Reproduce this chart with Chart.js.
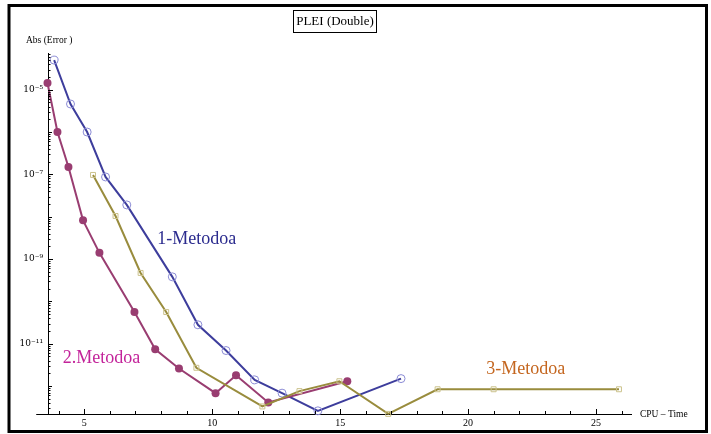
<!DOCTYPE html>
<html><head><meta charset="utf-8">
<script src="https://cdn.jsdelivr.net/npm/chart.js@4.4.1/dist/chart.umd.min.js"></script>
<style>html,body{margin:0;padding:0;background:#fff;} canvas{display:block;}</style>
</head><body>
<canvas id="c" width="711" height="434"></canvas>
<script>
// ---- data ----
const method1X = [3.82, 4.46, 5.11, 5.83, 6.66, 8.44, 9.44, 10.54, 11.66, 12.73, 14.13, 17.38];
const method1Y = [5.0e-5, 4.6e-6, 1.0e-6, 8.7e-8, 1.9e-8, 3.8e-10, 2.8e-11, 6.9e-12, 1.4e-12, 6.8e-13, 2.6e-13, 1.5e-12];
const method2X = [3.56, 3.95, 4.38, 4.95, 5.59, 6.96, 7.77, 8.70, 10.13, 10.93, 12.19, 15.28];
const method2Y = [1.44e-5, 1.0e-6, 1.5e-7, 8.2e-9, 1.4e-9, 5.6e-11, 7.4e-12, 2.6e-12, 6.8e-13, 1.8e-12, 4.1e-13, 1.3e-12];
const method3X = [5.34, 6.22, 7.20, 8.20, 9.38, 11.96, 13.41, 14.97, 16.88, 18.81, 21.00, 25.90];
const method3Y = [9.7e-8, 1.04e-8, 4.7e-10, 5.6e-11, 2.7e-12, 3.3e-13, 7.6e-13, 1.3e-12, 2.2e-13, 8.4e-13, 8.4e-13, 8.4e-13];
const seriesNames = ['1-Metodoa', '2.Metodoa', '3-Metodoa'];
const xTickLabels = [5, 10, 15, 20, 25];
const yTickExponents = [-5, -7, -9, -11];
const chartTitle = 'PLEI (Double)';
const yAxisTitle = 'Abs (Error )';
const xAxisTitle = 'CPU \u2013 Time';

// ---- layout / styling ----
const X_MIN = 3.58, X_MAX = 26.37, X_LINE_START = 3.12;
const Y_MIN = Math.pow(10, -12.66), Y_MAX = Math.pow(10, -4.133);
const SERIF = "'Liberation Serif', 'DejaVu Serif', serif";
const seriesLabelPos = [
  {x: 7.85, y: Math.pow(10, -8.53), color: '#2b2b8e'},
  {x: 4.16, y: Math.pow(10, -11.345), color: '#c3239a'},
  {x: 20.71, y: Math.pow(10, -11.605), color: '#c4661f'}
];

const SUP = {'-': '\u207B', '0': '\u2070', '1': '\u00B9', '2': '\u00B2', '3': '\u00B3', '4': '\u2074', '5': '\u2075', '6': '\u2076', '7': '\u2077', '8': '\u2078', '9': '\u2079'};
function sup(n) { return String(n).split('').map(c => SUP[c]).join(''); }
function pts(xs, ys) { return xs.map((x, i) => ({x: x, y: ys[i]})); }

const decor = {
  id: 'decor',
  beforeDraw(chart) {
    const ctx = chart.ctx;
    ctx.save();
    ctx.fillStyle = '#fff';
    ctx.fillRect(0, 0, chart.width, chart.height);
    ctx.restore();
  },
  afterDraw(chart) {
    const ctx = chart.ctx, xs = chart.scales.x, ys = chart.scales.y, ca = chart.chartArea;
    ctx.save();
    ctx.strokeStyle = '#000';
    ctx.lineWidth = 1;
    // x axis extension to the left of the y axis
    ctx.beginPath();
    ctx.moveTo(xs.getPixelForValue(X_LINE_START), Math.round(ca.bottom) + 0.5);
    ctx.lineTo(ca.left, Math.round(ca.bottom) + 0.5);
    ctx.stroke();
    // inward tick marks x
    xs.ticks.forEach(t => {
      const v = t.value;
      if (Math.abs(v - Math.round(v)) > 1e-9) return;
      const len = (v % 5 === 0) ? 5 : 3;
      const px = Math.round(xs.getPixelForValue(v)) + 0.5;
      ctx.beginPath(); ctx.moveTo(px, ca.bottom); ctx.lineTo(px, ca.bottom - len); ctx.stroke();
    });
    // inward tick marks y
    ys.ticks.forEach(t => {
      const v = t.value;
      const e = Math.floor(Math.log10(v) + 1e-9);
      const m = v / Math.pow(10, e);
      if (Math.abs(m - Math.round(m)) > 1e-6) return;
      let len = 2.5;
      if (Math.round(m) === 1) len = yTickExponents.includes(e) ? 5 : 4;
      const py = Math.round(ys.getPixelForValue(v)) + 0.5;
      ctx.beginPath(); ctx.moveTo(ca.left, py); ctx.lineTo(ca.left + len, py); ctx.stroke();
    });
    // axis titles
    ctx.fillStyle = '#000';
    ctx.font = '9.5px ' + SERIF;
    ctx.textBaseline = 'middle';
    ctx.textAlign = 'left';
    ctx.fillText(yAxisTitle, 26, 40);
    ctx.fillText(xAxisTitle, ca.right + 9, ca.bottom);
    // title box
    ctx.font = '13px ' + SERIF;
    ctx.textAlign = 'center';
    ctx.fillText(chartTitle, 335, 22);
    ctx.strokeRect(293.5, 10.5, 83, 22);
    // series labels
    ctx.font = '18px ' + SERIF;
    ctx.textAlign = 'left';
    seriesLabelPos.forEach((p, i) => {
      ctx.fillStyle = p.color;
      ctx.fillText(seriesNames[i], xs.getPixelForValue(p.x), ys.getPixelForValue(p.y));
    });
    // outer frame
    ctx.lineWidth = 3;
    ctx.strokeStyle = '#000';
    ctx.strokeRect(9, 5.5, 697.5, 426);
    ctx.restore();
  }
};

new Chart(document.getElementById('c'), {
  type: 'line',
  data: {
    datasets: [
      {label: seriesNames[0], data: pts(method1X, method1Y), borderColor: '#3d3d9c', borderWidth: 2,
       pointStyle: 'circle', pointRadius: 4, pointBorderColor: '#8c8cd6', pointBackgroundColor: 'rgba(0,0,0,0)',
       pointBorderWidth: 1, order: 2, clip: false},
      {label: seriesNames[1], data: pts(method2X, method2Y), borderColor: '#993d71', borderWidth: 2,
       pointStyle: 'circle', pointRadius: 4, pointBorderColor: '#993d71', pointBackgroundColor: '#993d71',
       pointBorderWidth: 0, order: 1, clip: false},
      {label: seriesNames[2], data: pts(method3X, method3Y), borderColor: '#998c3d', borderWidth: 2,
       pointStyle: 'rect', pointRadius: 3.5, pointBorderColor: '#cbc28c', pointBackgroundColor: 'rgba(0,0,0,0)',
       pointBorderWidth: 1, order: 0, clip: false}
    ]
  },
  options: {
    responsive: false,
    animation: false,
    devicePixelRatio: 1,
    layout: {padding: {left: 10, right: 80, top: 53, bottom: 0}},
    plugins: {legend: {display: false}, tooltip: {enabled: false}, title: {display: false}},
    elements: {line: {tension: 0}},
    scales: {
      x: {
        type: 'linear', min: X_MIN, max: X_MAX,
        afterFit(s) { s.height = 20; },
        afterBuildTicks(s) { const t = []; for (let v = Math.ceil(X_MIN); v <= X_MAX; v++) t.push({value: v}); s.ticks = t; },
        grid: {display: false, drawTicks: false},
        border: {display: true, color: '#000', width: 1},
        ticks: {autoSkip: false, maxRotation: 0, padding: 3, color: '#000', font: {family: SERIF, size: 10},
                callback: (v) => xTickLabels.includes(v) ? String(v) : ''}
      },
      y: {
        type: 'logarithmic', min: Y_MIN, max: Y_MAX,
        afterFit(s) { s.width = 38; },
        afterBuildTicks(s) {
          const t = [];
          for (let e = -13; e <= -4; e++) for (let k = 1; k <= 9; k++) {
            const v = k * Math.pow(10, e);
            if (v >= Y_MIN && v <= Y_MAX) t.push({value: v, major: k === 1});
          }
          s.ticks = t;
        },
        grid: {display: false, drawTicks: false},
        border: {display: true, color: '#000', width: 1},
        ticks: {autoSkip: false, padding: 5, color: '#000', font: {family: "'DejaVu Serif', serif", size: 9},
                callback: (v) => {
                  const e = Math.log10(v), r = Math.round(e);
                  return (Math.abs(e - r) < 1e-6 && yTickExponents.includes(r)) ? '10' + sup(r) : '';
                }}
      }
    }
  },
  plugins: [decor]
});
</script>
</body></html>
